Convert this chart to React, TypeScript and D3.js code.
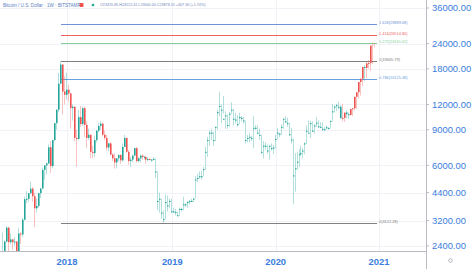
import React from 'react';
import * as d3 from 'd3';

// Weekly BITSTAMP BTC/USD candles, first bar = week of 2017-05-15
const firstWeek = new Date(2017, 4, 15);

const opens = [
  1720, 2050, 2200, 2520, 2950, 2500, 2580, 2500, 2520, 1930, 2760, 2730, 3230, 4080, 4100, 4370, 4600, 4220, 3680, 3780,
  4370, 4610, 5700, 6000, 6130, 7370, 5950, 8000, 9700, 11300, 15200, 18900, 13900,
  13400, 14200, 13600, 11500, 11700, 8200, 8100, 10400, 9600, 11500, 9500, 8200, 8500, 7000, 6900, 8000, 8900, 9400, 9650,
  8500, 8200, 7350, 7700, 6780, 6500, 6200, 6500, 6750, 6350, 7400, 8200, 7000, 6300, 6400, 6700, 7300, 6300, 6500, 6700,
  6600, 6600, 6400, 6450, 6400, 6450, 5600, 4000, 4100, 3500, 3250, 3950, 3800,
  4000, 3550, 3550, 3520, 3400, 3650, 3650, 3850, 3850, 3950, 4000, 4000, 4100, 5100, 5200, 5300, 5300, 5750, 7000, 8000,
  8700, 8700, 8000, 9300, 11000, 11800, 11300, 10200, 10600, 9500, 10800, 11300, 10200, 10100, 9600, 10400, 10300, 10000,
  8000, 8200, 8300, 8200, 9200, 9200, 8700, 8500, 7000, 7500, 7500, 7100, 7500, 7300,
  7350, 8100, 8700, 8600, 9300, 10200, 9900, 9700, 8550, 8050, 5350, 5800, 6250, 6800, 6900, 7100, 7700, 8900, 8700, 9700,
  8900, 9450, 9750, 9350, 9300, 9100, 9050, 9250, 9170, 9950, 11100, 11700, 11900, 11700, 10250, 10300, 10950, 10750,
  10650, 11400, 11500, 13100, 13800, 15500, 16100, 18400, 18200, 19150, 19250, 23470,
];
const highs = [
  2100, 2790, 2550, 2990, 2990, 2780, 2600, 2650, 2530, 2950, 2800, 3300, 4200, 4480, 4370, 4980, 4700, 4380, 4120, 4400,
  4620, 5850, 6000, 6200, 7600, 7900, 8000, 9700, 11400, 17200, 19666, 19000, 16500,
  17200, 15000, 13700, 12000, 11700, 9000, 11300, 11800, 11700, 11700, 9900, 9100, 8500, 7500, 8400, 9000, 9750, 9950, 9700,
  8900, 8500, 7750, 7800, 6880, 6850, 6500, 6800, 6800, 7700, 8500, 8200, 7150, 6600, 6800, 7300, 7400, 6600, 6800, 6800,
  6700, 6700, 6600, 6500, 6450, 6600, 6500, 5600, 4400, 4100, 3600, 4300, 4250, 4100,
  4100, 3700, 3650, 3550, 3700, 3700, 4200, 3900, 4000, 4050, 4100, 4150, 5300, 5450, 5600, 5650, 5900, 7400, 8300, 8900,
  9100, 8800, 9300, 11300, 13880, 12000, 13200, 11100, 10700, 11000, 12300, 11400, 10900, 10600, 10900, 10500, 10400, 10000,
  8500, 8700, 8400, 10500, 9500, 9500, 9100, 8500, 7900, 7800, 7600, 7500, 7700, 7550,
  8500, 9200, 8700, 9600, 10200, 10500, 10300, 9700, 9200, 8150, 6900, 6950, 7250, 7500, 7300, 7800, 9450, 10000, 9950, 9900,
  9600, 10400, 10000, 9800, 9800, 9300, 9450, 9300, 10000, 12100, 11900, 12100, 12400, 11900, 12100, 10600, 11200, 10950,
  10950, 11450, 11700, 13350, 14000, 15950, 16500, 18800, 19500, 19900, 19400, 24300, 24122,
];
const lows = [
  1700, 1950, 2150, 2500, 2100, 2440, 2300, 2400, 1840, 1900, 2450, 2650, 3200, 3900, 3950, 4330, 3970, 2970, 3500, 3700,
  4130, 4600, 5100, 5400, 6080, 5500, 5800, 7900, 9000, 11000, 15200, 10700, 12000,
  12700, 12400, 9100, 10000, 7900, 5900, 8000, 9300, 9400, 8300, 7300, 8000, 6500, 6500, 6600, 7800, 8700, 9000, 8350,
  8000, 7100, 7050, 6700, 6300, 5780, 5800, 6300, 6100, 6250, 7400, 6900, 6050, 5900, 6200, 6700, 6200, 6200, 6200, 6400,
  6400, 6100, 6300, 6350, 6250, 6350, 5200, 3600, 3500, 3250, 3122, 3250, 3550, 3700,
  3500, 3500, 3400, 3350, 3380, 3550, 3600, 3750, 3700, 3850, 3950, 3950, 4100, 4950, 5150, 5100, 5300, 5700, 6600, 7500,
  8000, 7500, 7900, 9000, 10500, 9700, 10800, 9100, 9100, 9300, 10800, 9450, 9700, 9300, 9600, 9900, 9600, 7700,
  7800, 7800, 7900, 7300, 9000, 8600, 8000, 6800, 6500, 7200, 6850, 6400, 7100, 6850,
  7300, 8100, 8250, 8500, 9100, 9700, 9300, 8400, 7700, 3850, 4450, 5700, 5900, 6700, 6500, 6800, 7650, 8700, 8200, 8800,
  8600, 9300, 9200, 9200, 8900, 8900, 9050, 9050, 9130, 9900, 10950, 11100, 11300, 11100, 9900, 9850, 10250, 10150,
  10550, 10500, 11200, 11400, 12900, 13300, 14800, 15700, 16200, 18000, 17600, 19000, 23000,
];
const closes = [
  2050, 2200, 2520, 2950, 2500, 2580, 2500, 2520, 1930, 2760, 2730, 3230, 4080, 4100, 4370, 4600, 4220, 3680, 3780, 4370,
  4610, 5700, 6000, 6130, 7370, 5950, 8000, 9700, 11300, 15200, 18900, 13900, 13400,
  14200, 13600, 11500, 11700, 8200, 8100, 10400, 9600, 11500, 9500, 8200, 8500, 7000, 6900, 8000, 8900, 9400, 9650, 8500,
  8200, 7350, 7700, 6780, 6500, 6200, 6500, 6750, 6350, 7400, 8200, 7000, 6300, 6400, 6700, 7300, 6300, 6500, 6700, 6600,
  6600, 6400, 6450, 6400, 6400, 6450, 5600, 4000, 4100, 3500, 3250, 3950, 3800, 4000,
  3550, 3550, 3520, 3400, 3650, 3650, 3850, 3850, 3950, 4000, 4000, 4100, 5100, 5200, 5300, 5300, 5750, 7000, 8000, 8700,
  8700, 8000, 9300, 11000, 11800, 11300, 10200, 10600, 9500, 10800, 11300, 10200, 10100, 9600, 10400, 10300, 10000, 8000,
  8200, 8300, 8200, 9200, 9200, 8700, 8500, 7000, 7500, 7500, 7100, 7500, 7300, 7350,
  8100, 8700, 8600, 9300, 10200, 9900, 9700, 8550, 8050, 5350, 5800, 6250, 6800, 6900, 7100, 7700, 8900, 8700, 9700, 8900,
  9450, 9750, 9350, 9300, 9100, 9050, 9250, 9170, 9950, 11100, 11700, 11900, 11700, 11700, 10250, 10300, 10950, 10750,
  10650, 11400, 11500, 13100, 13800, 15500, 16100, 18400, 18200, 19150, 19250, 23470, 23878,
];

const priceTicks = [2400, 3200, 4400, 6000, 9000, 12000, 18000, 24000, 36000];

// Trend-based Fibonacci extension
const fibRatios = [1.618, 1.414, 1.272, 1, 0.786, 0];
const fibLowValue = 3122.28;
const fibHighValue = 19665.79;
const fibStartBar = 30;
const fibColors = ['#6f93d6', '#ec5f63', '#86cf9a', '#808080', '#6aa0df', '#808080'];

const headerTitle = 'Bitcoin / U.S. Dollar · 1W · BITSTAMP';
const headerOHLC = 'O23470.85 H24122.41 L23000.00 C23878.15 +407.30 (+1.74%)';

const W = 474;
const H = 269;
const plotRight = 426;
const plotBottom = 251;
const UP = '#26a69a';
const DOWN = '#ef5350';
const AXIS_TEXT = '#3b7ddd';

export default function App() {
  const n = closes.length;
  const x = d3.scaleLinear().domain([33, 190]).range([67, 379]);
  const y = d3.scaleLog().domain([2400, 36000]).range([245.8, 8]);

  const weekDate = (i: number) => d3.timeWeek.offset(firstWeek, i);
  const yearTicks: { i: number; label: string }[] = [];
  for (let i = 1; i <= n + 1; i++) {
    const a = weekDate(i - 1).getFullYear();
    const b = weekDate(i).getFullYear();
    if (b !== a) yearTicks.push({ i, label: String(b) });
  }

  const fibLevels = fibRatios.map((r) => ({
    r,
    v: fibLowValue + r * (fibHighValue - fibLowValue),
  }));
  const fibX0 = Math.round(x(fibStartBar));
  const fibX1 = 377;

  return (
    <svg width={W} height={H} style={{ display: 'block', position: 'absolute', left: 0, top: 0 }}
      fontFamily="'Liberation Sans', Arial, sans-serif">
      <rect x={0} y={0} width={W} height={H} fill="#ffffff" />
      <defs>
        <clipPath id="plot">
          <rect x={0} y={0} width={plotRight} height={plotBottom} />
        </clipPath>
      </defs>
      {/* grid */}
      <g stroke="#f0f2f7" strokeWidth={1}>
        {priceTicks.map((p) => (
          <line key={p} x1={0} x2={plotRight} y1={Math.round(y(p)) + 0.5} y2={Math.round(y(p)) + 0.5} />
        ))}
        {yearTicks.map((t) => (
          <line key={t.label} x1={Math.round(x(t.i)) + 0.5} x2={Math.round(x(t.i)) + 0.5} y1={0} y2={plotBottom} />
        ))}
      </g>
      <g clipPath="url(#plot)">
        {/* fib lines */}
        {fibLevels.map((f, k) => (
          <line key={f.r} x1={fibX0} x2={fibX1} y1={Math.round(y(f.v)) + 0.5} y2={Math.round(y(f.v)) + 0.5}
            stroke={fibColors[k]} strokeWidth={1} />
        ))}
        {/* candles */}
        {closes.map((c, i) => {
          const o = opens[i];
          const up = c >= o;
          const col = up ? UP : DOWN;
          const px = Math.round(x(i));
          const top = y(Math.max(o, c));
          const bot = y(Math.min(o, c));
          return (
            <g key={i}>
              <line x1={px - 0.5} x2={px - 0.5} y1={y(highs[i])} y2={y(lows[i])} stroke={col} strokeOpacity={0.35} strokeWidth={1} />
              <rect x={px - 1} y={top} width={1.6} height={Math.max(1, bot - top)} fill={col} />
            </g>
          );
        })}
      </g>
      {/* fib labels */}
      {fibLevels.map((f, k) => (
        <text key={f.r} x={379} y={Math.round(y(f.v)) - 0.3} fontSize={3.9} fill={fibColors[k]}>
          {`${f.r}(${f.v.toFixed(2)})`}
        </text>
      ))}
      {/* axes */}
      <line x1={plotRight + 0.5} x2={plotRight + 0.5} y1={0} y2={H} stroke="#b8bbc2" strokeWidth={1} />
      <line x1={0} x2={plotRight} y1={plotBottom + 0.5} y2={plotBottom + 0.5} stroke="#b8bbc2" strokeWidth={1} />
      {priceTicks.map((p) => (
        <g key={p}>
          <line x1={plotRight} x2={plotRight + 3} y1={y(p)} y2={y(p)} stroke="#b8bbc2" />
          <text x={432} y={y(p)} dy="0.35em" fontSize={9.4} fill={AXIS_TEXT}>
            {p.toFixed(2)}
          </text>
        </g>
      ))}
      {yearTicks.map((t) => (
        <text key={t.label} x={x(t.i)} y={264.5} fontSize={9.4} fontWeight="bold" fill={AXIS_TEXT} textAnchor="middle">
          {t.label}
        </text>
      ))}
      <circle cx={450.5} cy={260.5} r={1.8} fill="none" stroke="#9a9ea8" strokeWidth={0.7} />
      {/* header */}
      <text x={3} y={6.5} fontSize={4.6} fill="#5a7fc4">{headerTitle}</text>
      <rect x={79.5} y={3} width={4} height={4} rx={0.8} fill="#ef5350" />
      <circle cx={93} cy={5} r={1.3} fill="#26a69a" />
      <text x={100} y={6.3} fontSize={3.7} fill="#6f86b8">{headerOHLC}</text>
    </svg>
  );
}
